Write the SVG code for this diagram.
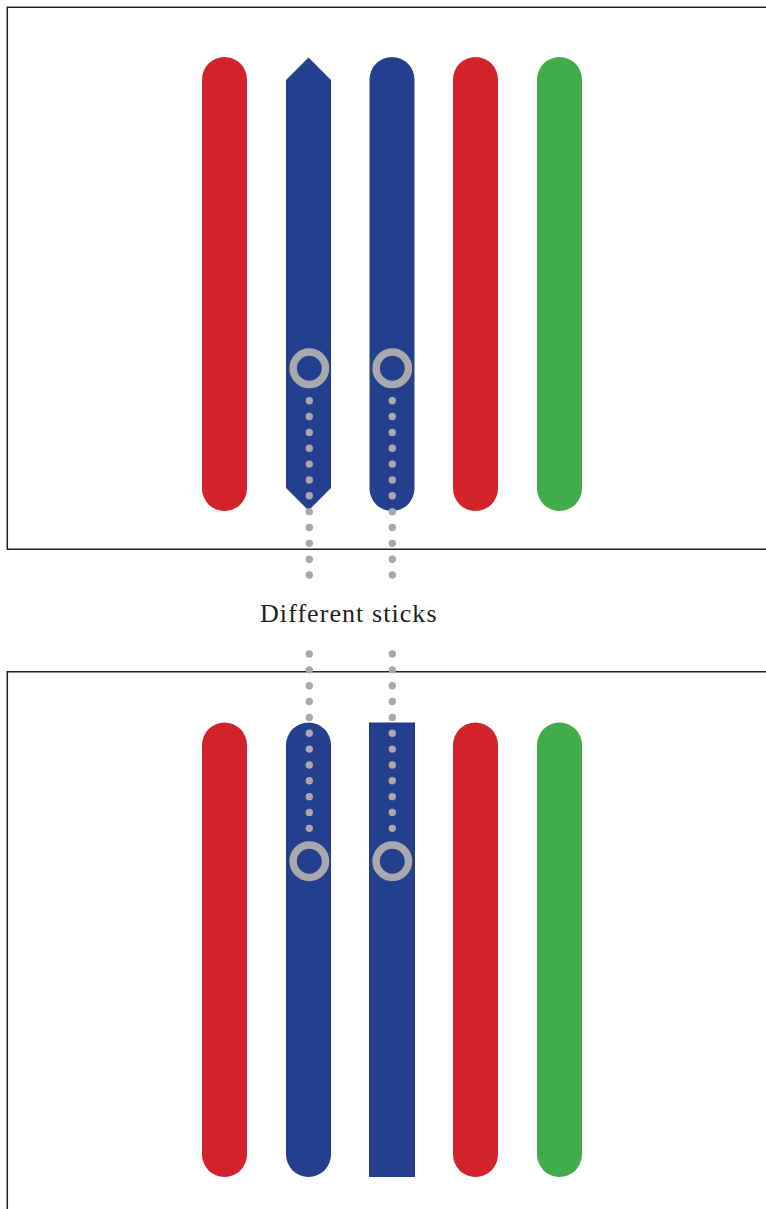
<svg xmlns="http://www.w3.org/2000/svg" width="766" height="1209" viewBox="0 0 766 1209">
<style>
.frame{fill:none;stroke:#231f20;stroke-width:1.5}
.red{fill:#d2232a}
.blue{fill:#243f8e}
.green{fill:#41ad49}
.ring{fill:none;stroke:#a7a9ac;stroke-width:7.5}
.dots{fill:none;stroke:#a7a9ac;stroke-width:7.4;stroke-linecap:round;stroke-dasharray:0 15.85}
.label{font-family:"Liberation Serif",serif;font-size:26px;fill:#231f20}
</style>
<g id="frame-top"><path class="frame" d="M767 7.3H7.3V549.3H767"/></g>
<g id="frame-bottom"><path class="frame" d="M767 671.7H7.3V1210"/></g>
<g id="top-sticks">
<rect id="t1" class="red" x="202" y="57" width="45" height="454" rx="22.5"/>
<path id="t2" class="blue" d="M286 80L308.5 57.5L331 80V488L308.5 510.5L286 488Z"/>
<rect id="t3" class="blue" x="369.5" y="57" width="45" height="454" rx="22.5"/>
<rect id="t4" class="red" x="453" y="57" width="45" height="454" rx="22.5"/>
<rect id="t5" class="green" x="537" y="57" width="45" height="454" rx="22.5"/>
</g>
<g id="bottom-sticks">
<rect id="b1" class="red" x="202" y="722.5" width="45" height="454.5" rx="22.5"/>
<rect id="b2" class="blue" x="286" y="722.5" width="45" height="454.5" rx="22.5"/>
<rect id="b3" class="blue" x="369" y="722.5" width="46" height="454.5"/>
<rect id="b4" class="red" x="453" y="722.5" width="45" height="454.5" rx="22.5"/>
<rect id="b5" class="green" x="537" y="722.5" width="45" height="454.5" rx="22.5"/>
</g>
<g id="connectors">
<circle class="ring" cx="309.3" cy="368.3" r="16.2"/>
<circle class="ring" cx="392.3" cy="368.3" r="16.2"/>
<path class="dots" d="M309.3 400.7V580M392.3 400.7V580"/>
<path class="dots" d="M309.3 654V835M392.3 654V835"/>
<circle class="ring" cx="309.3" cy="861.2" r="16.2"/>
<circle class="ring" cx="392.3" cy="861.2" r="16.2"/>
</g>
<g id="label"><text class="label" x="260" y="622" textLength="176.5" lengthAdjust="spacing">Different sticks</text></g>
</svg>
